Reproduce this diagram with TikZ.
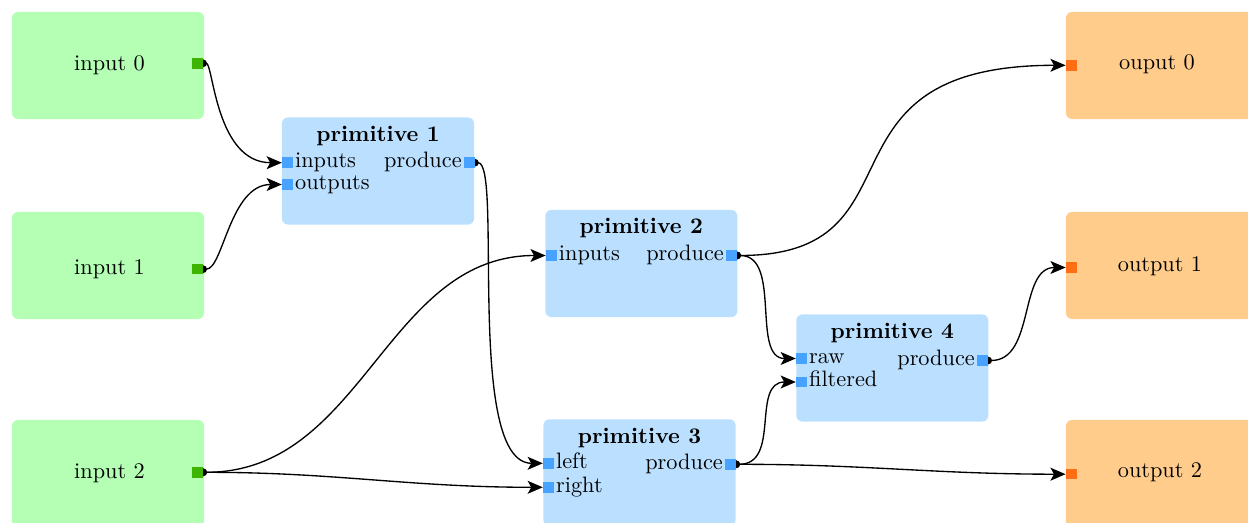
\documentclass[tikz,border=0pt]{standalone}
\usetikzlibrary{arrows.meta,calc}
\pgfdeclarelayer{fg}
\pgfsetlayers{main,fg}
\definecolor{infill}{RGB}{180,255,180}
\definecolor{inportc}{RGB}{60,180,0}
\definecolor{primfill}{RGB}{187,224,255}
\definecolor{primportc}{RGB}{71,163,255}
\definecolor{outfill}{RGB}{255,204,140}
\definecolor{outportc}{RGB}{255,109,20}
\begin{document}
\begin{tikzpicture}[x=0.4484pt,y=-0.4484pt,
  box/.style={rectangle, rounded corners=2.7pt, minimum width=86.1pt, minimum height=48pt, inner sep=0pt, draw=none},
  inbox/.style={box, fill=infill},
  primbox/.style={box, fill=primfill},
  outbox/.style={box, fill=outfill},
  port/.style={rectangle, minimum size=4.7pt, inner sep=0pt, draw=none},
  inport/.style={port, fill=inportc},
  primport/.style={port, fill=primportc},
  outport/.style={port, fill=outportc},
  lbl/.style={inner sep=0pt, anchor=base},
  lblw/.style={inner sep=0pt, anchor=base west},
  lble/.style={inner sep=0pt, anchor=base east},
  ttl/.style={inner sep=0pt, anchor=base, font=\bfseries},
  wire/.style={line width=0.6pt, {Circle[length=3.4pt]}-{Stealth[length=6.8pt,width=5.8pt,inset=1.6pt]}, shorten <=-1.7pt}
]
\useasboundingbox (0,0) rectangle (1248,523);
\clip (0,0) rectangle (1248,523);

% boxes
\node[inbox] (in0) at (108,65.5) {};
\node[inbox] (in1) at (108,265.5) {};
\node[inbox] (in2) at (108,473.5) {};
\node[primbox] (p1) at (378,171) {};
\node[primbox] (p2) at (641.3,263.5) {};
\node[primbox] (p3) at (639.5,472.8) {};
\node[primbox] (p4) at (892.3,368) {};
\node[outbox] (out0) at (1162,65.5) {};
\node[outbox] (out1) at (1162,265.5) {};
\node[outbox] (out2) at (1162,473.5) {};

% ports (foreground)
\begin{pgfonlayer}{fg}
\node[inport] (in0p) at (197.5,63.3) {};
\node[inport] (in1p) at (197.5,269.2) {};
\node[inport] (in2p) at (197.5,472.3) {};
\node[primport] (p1in) at (287.5,162.7) {};
\node[primport] (p1out) at (287.5,184.5) {};
\node[primport] (p1pr) at (469.3,162.7) {};
\node[primport] (p2in) at (551.3,255.5) {};
\node[primport] (p2pr) at (731.5,255.5) {};
\node[primport] (p3l) at (548.5,463.3) {};
\node[primport] (p3r) at (548.5,487.3) {};
\node[primport] (p3pr) at (730.5,464.3) {};
\node[primport] (p4raw) at (801.5,358.5) {};
\node[primport] (p4fil) at (801.5,382) {};
\node[primport] (p4pr) at (982.5,360.5) {};
\node[outport] (out0p) at (1071.3,65.3) {};
\node[outport] (out1p) at (1071.3,267.5) {};
\node[outport] (out2p) at (1071.3,474.2) {};
\end{pgfonlayer}

% box labels
\node[lbl] (in0l) at (109.5,70.7) {input 0};
\node[lbl] (in1l) at (109.5,275) {input 1};
\node[lbl] (in2l) at (109.5,478.5) {input 2};
\node[lbl] (out0l) at (1157,69.8) {ouput 0};
\node[lbl] (out1l) at (1160,272) {output 1};
\node[lbl] (out2l) at (1160,478) {output 2};

% primitive titles
\node[ttl] (p1t) at ($(p1.north)+(0,24.3)$) {primitive 1};
\node[ttl] (p2t) at ($(p2.north)+(0,24.3)$) {primitive 2};
\node[ttl] (p3t) at ($(p3.north)+(0,24.3)$) {primitive 3};
\node[ttl] (p4t) at ($(p4.north)+(0,24.3)$) {primitive 4};

% port labels
\node[lblw] (p1inl) at ($(p1in.east)+(1.5,5)$) {inputs};
\node[lblw] (p1outl) at ($(p1out.east)+(1.5,5)$) {outputs};
\node[lble] (p1prl) at ($(p1pr.west)+(-1.5,5)$) {produce};
\node[lblw] (p2inl) at ($(p2in.east)+(1.5,5)$) {inputs};
\node[lble] (p2prl) at ($(p2pr.west)+(-1.5,5)$) {produce};
\node[lblw] (p3ll) at ($(p3l.east)+(1.5,5)$) {left};
\node[lblw] (p3rl) at ($(p3r.east)+(1.5,5)$) {right};
\node[lble] (p3prl) at ($(p3pr.west)+(-1.5,5)$) {produce};
\node[lblw] (p4rawl) at ($(p4raw.east)+(1.5,5)$) {raw};
\node[lblw] (p4fill) at ($(p4fil.east)+(1.5,5)$) {filtered};
\node[lble] (p4prl) at ($(p4pr.west)+(-1.5,5)$) {produce};

% connectors
\draw[wire] (in0p.east) .. controls +(10,0) and +(-66,0) .. (p1in.west);
\draw[wire] (in1p.east) .. controls +(20,0) and +(-52,0) .. (p1out.west);
\draw[wire] (p1pr.east) .. controls +(28,0) and +(-78,0) .. (p3l.west);
\draw[wire] (in2p.east) .. controls +(160,0) and +(-160,0) .. (p2in.west);
\draw[wire] (in2p.east) .. controls +(133,0) and +(-133,0) .. (p3r.west);
\draw[wire] (p2pr.east) .. controls +(193,0) and +(-261,0) .. (out0p.west);
\draw[wire] (p2pr.east) .. controls +(45,0) and +(-45,0) .. (p4raw.west);
\draw[wire] (p3pr.east) .. controls +(45,0) and +(-45,0) .. (p4fil.west);
\draw[wire] (p3pr.east) .. controls +(130,0) and +(-130,0) .. (out2p.west);
\draw[wire] (p4pr.east) .. controls +(47,0) and +(-47,0) .. (out1p.west);
\end{tikzpicture}
\end{document}
